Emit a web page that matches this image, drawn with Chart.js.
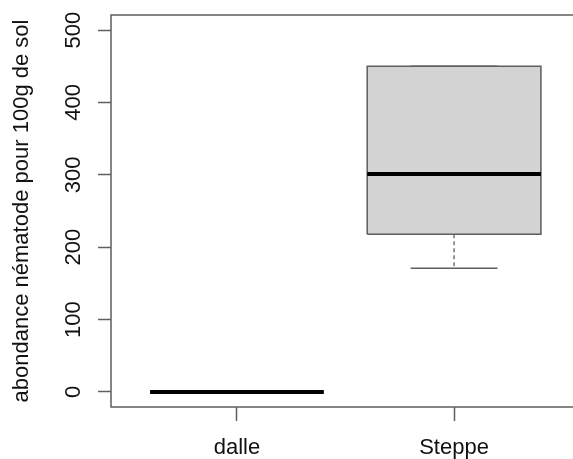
<!DOCTYPE html>
<html>
<head>
<meta charset="utf-8">
<script src="https://cdn.jsdelivr.net/npm/chart.js@4"></script>
<style>
  html, body { margin: 0; padding: 0; background: #fff; overflow: hidden; }
  #wrap { width: 580px; height: 459px; }
</style>
</head>
<body>
<div id="wrap"><canvas id="c" width="580" height="459"></canvas></div>
<script>
// ---- data ----
const categories = ['dalle', 'Steppe'];
const whiskerLow  = [0, 171];
const q1          = [0, 218];
const median      = [0, 301];
const q3          = [0, 450];
const whiskerHigh = [0, 450];
const yTicks = [0, 100, 200, 300, 400, 500];
const yTitle = 'abondance nématode pour 100g de sol';

const FONT = '"Liberation Sans", Arial, sans-serif';
const LINE = '#5e5e5e';
const HALF = 0.4, CAP = 0.2;

const datasets = [];
categories.forEach((cat, i) => {
  const c = i + 1;
  datasets.push({
    label: cat + ' median', order: 0,
    data: [{x: c - HALF, y: median[i]}, {x: c + HALF, y: median[i]}],
    borderColor: '#000', borderWidth: 4, borderCapStyle: 'butt'
  });
  datasets.push({
    label: cat + ' box', order: 5,
    data: [{x: c - HALF, y: q1[i]}, {x: c + HALF, y: q1[i]}, {x: c + HALF, y: q3[i]},
           {x: c - HALF, y: q3[i]}, {x: c - HALF, y: q1[i]}],
    borderColor: LINE, borderWidth: 1.5, backgroundColor: '#d3d3d3', fill: 'shape'
  });
  datasets.push({
    label: cat + ' lower whisker', order: 3,
    data: [{x: c, y: q1[i]}, {x: c, y: whiskerLow[i]}],
    borderColor: LINE, borderWidth: 1.3, borderDash: [4, 3]
  });
  datasets.push({
    label: cat + ' upper whisker', order: 3,
    data: [{x: c, y: q3[i]}, {x: c, y: whiskerHigh[i]}],
    borderColor: LINE, borderWidth: 1.3, borderDash: [4, 3]
  });
  datasets.push({
    label: cat + ' low cap', order: 3,
    data: [{x: c - CAP, y: whiskerLow[i]}, {x: c + CAP, y: whiskerLow[i]}],
    borderColor: LINE, borderWidth: 1.5
  });
  datasets.push({
    label: cat + ' high cap', order: 6,
    data: [{x: c - CAP, y: whiskerHigh[i]}, {x: c + CAP, y: whiskerHigh[i]}],
    borderColor: LINE, borderWidth: 1.5
  });
});
datasets.forEach(d => { d.showLine = true; d.pointRadius = 0; d.tension = 0; if (d.fill === undefined) d.fill = false; });

const framePlugin = {
  id: 'rframe',
  afterDraw(chart) {
    const {ctx, chartArea: a} = chart;
    ctx.save();
    ctx.strokeStyle = LINE;
    ctx.lineWidth = 1.5;
    ctx.strokeRect(a.left, a.top, a.right - a.left, a.bottom - a.top);
    // rotated y tick labels (R style, parallel to axis)
    const ys = chart.scales.y;
    ctx.fillStyle = '#111';
    ctx.font = '22px ' + FONT;
    ctx.textAlign = 'center';
    ctx.textBaseline = 'alphabetic';
    ys.ticks.forEach(t => {
      const py = ys.getPixelForValue(t.value);
      ctx.save();
      ctx.translate(80, py);
      ctx.rotate(-Math.PI / 2);
      ctx.fillText(t.label, 0, 0);
      ctx.restore();
    });
    ctx.restore();
  }
};

new Chart(document.getElementById('c'), {
  type: 'scatter',
  data: { datasets },
  options: {
    responsive: false,
    animation: false,
    events: [],
    layout: { padding: { top: 15, left: 0, right: 0, bottom: 0 } },
    plugins: { legend: { display: false }, tooltip: { enabled: false } },
    scales: {
      x: {
        type: 'linear', min: 0.42, max: 2.58,
        afterBuildTicks: s => { s.ticks = categories.map((_, i) => ({ value: i + 1 })); },
        afterFit: s => { s.height = 52; },
        ticks: {
          callback: v => categories[Math.round(v) - 1],
          font: { family: FONT, size: 22 }, color: '#111', padding: 14,
          maxRotation: 0, autoSkip: false
        },
        grid: { drawOnChartArea: false, drawTicks: true, tickLength: 14, tickColor: LINE, tickWidth: 1.5 },
        border: { display: false }
      },
      y: {
        type: 'linear', min: -20.8, max: 520.8,
        afterBuildTicks: s => { s.ticks = yTicks.map(v => ({ value: v })); },
        afterFit: s => { s.width = 111; },
        ticks: { display: false },
        grid: { drawOnChartArea: false, drawTicks: true, tickLength: 13, tickColor: LINE, tickWidth: 1.5 },
        border: { display: false },
        title: {
          display: true, text: yTitle, color: '#111',
          font: { family: FONT, size: 22 }, padding: { top: 9, bottom: 0 }
        }
      }
    }
  },
  plugins: [framePlugin]
});
</script>
</body>
</html>
